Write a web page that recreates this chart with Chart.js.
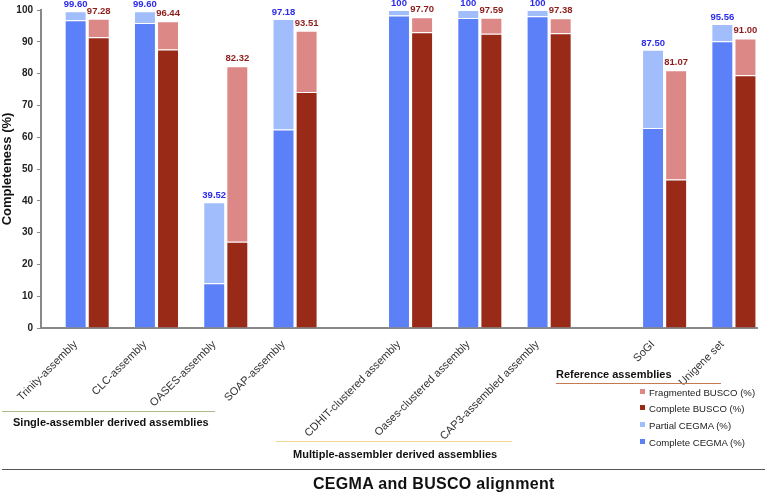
<!DOCTYPE html>
<html>
<head>
<meta charset="utf-8">
<script src="https://cdn.jsdelivr.net/npm/chart.js@4"></script>
<style>
  body { margin: 0; background: #fff; font-family: "Liberation Sans", Arial, sans-serif; }
  #wrap { position: relative; width: 767px; height: 494px; }
  .txt { position: absolute; white-space: nowrap; color: #111; }
  .bold { font-weight: bold; font-size: 11px; }
  .line { position: absolute; height: 0; }
  .leg { position: absolute; left: 640px; font-size: 9.6px; color: #222; line-height: 12px; white-space: nowrap; }
  .leg span { display: inline-block; width: 5px; height: 5px; margin-right: 4px; vertical-align: 2px; }
</style>
</head>
<body>
<div id="wrap">
  <canvas id="my-chart" width="767" height="494"></canvas>

  <div class="line" style="left:2px; top:411px; width:213px; border-top:1px solid #a9b98a;"></div>
  <div class="txt bold" style="left:13px; top:416px;">Single-assembler derived assemblies</div>

  <div class="line" style="left:276px; top:441px; width:236px; border-top:1.5px solid #f0d890;"></div>
  <div class="txt bold" style="left:293px; top:448px;">Multiple-assembler derived assemblies</div>

  <div class="txt bold" style="left:556px; top:368px;">Reference assemblies</div>
  <div class="line" style="left:556px; top:383px; width:165px; border-top:1px solid #c8784e;"></div>

  <div class="leg" style="top:387px;"><span style="background:#dc8887"></span>Fragmented BUSCO (%)</div>
  <div class="leg" style="top:403px;"><span style="background:#982a17"></span>Complete BUSCO (%)</div>
  <div class="leg" style="top:420px;"><span style="background:#a2bdfb"></span>Partial CEGMA (%)</div>
  <div class="leg" style="top:437px;"><span style="background:#5b80f7"></span>Complete CEGMA (%)</div>

  <div class="line" style="left:2px; top:469px; width:763px; border-top:1.5px solid #555;"></div>
  <div class="txt" style="left:313px; top:475px; font-size:16px; font-weight:bold; letter-spacing:0.3px;">CEGMA and BUSCO alignment</div>
</div>

<script>
'use strict';

// DATA

let assemblies = ['Trinity-assembly', 'CLC-assembly', 'OASES-assembly', 'SOAP-assembly',
  'CDHIT-clustered assembly', 'Oases-clustered assembly', 'CAP3-assembled assembly',
  'SoGI', 'Unigene set'];

let cegmaComplete = [96.8, 95.9, 14.1, 62.4, 98.3, 97.5, 98.0, 62.9, 90.2];
let cegmaTotal = [99.60, 99.60, 39.52, 97.18, 100, 100, 100, 87.50, 95.56];
let buscoComplete = [91.4, 87.6, 27.1, 74.2, 93.0, 92.5, 92.7, 46.7, 79.5];
let buscoTotal = [97.28, 96.44, 82.32, 93.51, 97.70, 97.59, 97.38, 81.07, 91.00];

let cegmaText = ['99.60', '99.60', '39.52', '97.18', '100', '100', '100', '87.50', '95.56'];
let buscoText = ['97.28', '96.44', '82.32', '93.51', '97.70', '97.59', '97.38', '81.07', '91.00'];

let yTicks = [0, 10, 20, 30, 40, 50, 60, 70, 80, 90, 100];

// groups of assemblies are split by wider gaps
let extraGapAfter = [3, 6];

// BUILD SLOTS (blue bar, red bar, blank ...)

let slotLabels = [''];
let blueSlot = [];
let redSlot = [];
for (let i = 0; i < assemblies.length; i++) {
  blueSlot.push(slotLabels.length);
  slotLabels.push(assemblies[i]);
  redSlot.push(slotLabels.length);
  slotLabels.push('');
  if (i < assemblies.length - 1) {
    slotLabels.push('');
    if (extraGapAfter.includes(i)) {
      slotLabels.push('', '');
    }
  }
}

function fillSlots(slots, values) {
  let arr = slotLabels.map(() => null);
  for (let i = 0; i < slots.length; i++) {
    arr[slots[i]] = values[i];
  }
  return arr;
}

let cegmaPartial = cegmaTotal.map((v, i) => v - cegmaComplete[i]);
let buscoFragmented = buscoTotal.map((v, i) => v - buscoComplete[i]);

// VALUE LABELS PLUGIN

let valueLabels = {
  id: 'valueLabels',
  afterDatasetsDraw(chart) {
    let ctx = chart.ctx;
    let x = chart.scales.x;
    let y = chart.scales.y;
    ctx.save();
    ctx.font = 'bold 9.5px "Liberation Sans", Arial, sans-serif';
    ctx.textAlign = 'center';
    ctx.textBaseline = 'bottom';
    for (let i = 0; i < assemblies.length; i++) {
      ctx.fillStyle = '#2b2bea';
      ctx.fillText(cegmaText[i], x.getPixelForValue(blueSlot[i]), y.getPixelForValue(cegmaTotal[i]) - 2);
      ctx.fillStyle = '#8e1d1a';
      ctx.fillText(buscoText[i], x.getPixelForValue(redSlot[i]), y.getPixelForValue(buscoTotal[i]) - 3);
    }
    ctx.restore();
  }
};

// CHART

let ctx = document.getElementById('my-chart').getContext('2d');

let barStyle = {
  borderColor: 'rgba(255,255,255,0.55)',
  borderWidth: 1,
  barPercentage: 1,
  categoryPercentage: 0.95
};

new Chart(ctx, {
  type: 'bar',
  data: {
    labels: slotLabels,
    datasets: [
      Object.assign({ label: 'Complete CEGMA (%)', data: fillSlots(blueSlot, cegmaComplete), backgroundColor: '#5b80f7' }, barStyle),
      Object.assign({ label: 'Partial CEGMA (%)', data: fillSlots(blueSlot, cegmaPartial), backgroundColor: '#a2bdfb' }, barStyle),
      Object.assign({ label: 'Complete BUSCO (%)', data: fillSlots(redSlot, buscoComplete), backgroundColor: '#982a17' }, barStyle),
      Object.assign({ label: 'Fragmented BUSCO (%)', data: fillSlots(redSlot, buscoFragmented), backgroundColor: '#dc8887' }, barStyle)
    ]
  },
  options: {
    responsive: false,
    animation: false,
    layout: { padding: { top: 9, right: 10, left: 0, bottom: 0 } },
    plugins: {
      legend: { display: false },
      tooltip: { enabled: false }
    },
    scales: {
      x: {
        stacked: true,
        grid: { display: false },
        border: { color: '#888', width: 2 },
        ticks: {
          autoSkip: false,
          maxRotation: 45,
          minRotation: 45,
          padding: 2,
          color: '#333',
          font: { family: '"Liberation Sans", Arial, sans-serif', size: 11 }
        },
        afterFit(scale) { scale.height = 166; }
      },
      y: {
        stacked: true,
        min: 0,
        max: 100,
        afterBuildTicks(scale) { scale.ticks = yTicks.map(v => ({ value: v })); },
        grid: { drawOnChartArea: false, tickLength: 4, color: '#888', tickWidth: 1 },
        border: { color: '#888', width: 2 },
        ticks: {
          padding: 4,
          color: '#222',
          font: { family: '"Liberation Sans", Arial, sans-serif', size: 10, weight: 'bold' }
        },
        title: {
          display: true,
          text: 'Completeness (%)',
          color: '#111',
          padding: 0,
          font: { family: '"Liberation Sans", Arial, sans-serif', size: 13, weight: 'bold' }
        },
        afterFit(scale) { scale.width = 41; }
      }
    }
  },
  plugins: [valueLabels]
});
</script>
</body>
</html>
